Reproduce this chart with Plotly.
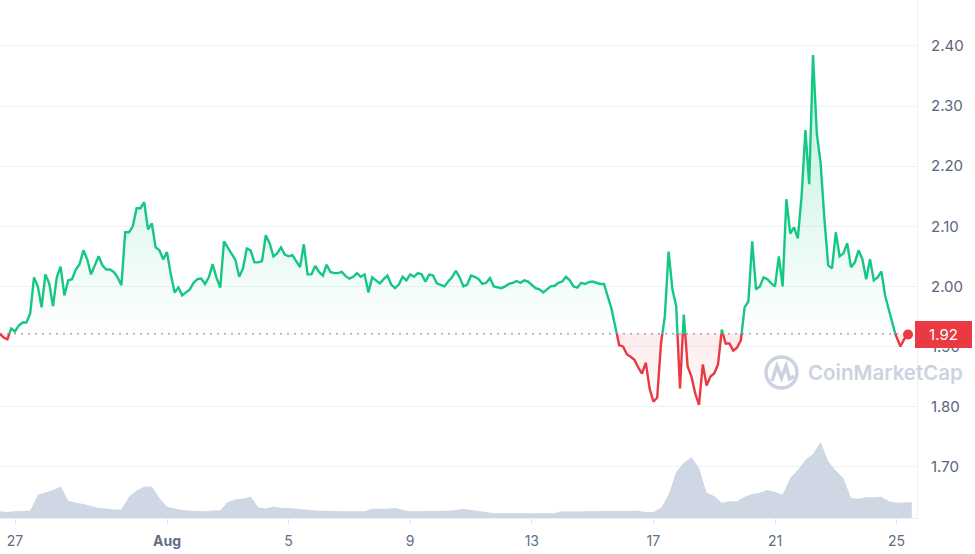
import numpy as np
import pandas as pd
import plotly.graph_objects as go

# ---------------- data ----------------
PRICE_START = "2022-07-26 12:00"
PRICE_STEP = "3h"
prices = [
    1.921, 1.915, 1.912, 1.930, 1.925, 1.935, 1.940, 1.940, 1.955, 2.015,
    2.000, 1.965, 2.020, 2.005, 1.967, 2.015, 2.033, 1.985, 2.010, 2.012,
    2.028, 2.037, 2.060, 2.045, 2.020, 2.035, 2.050, 2.035, 2.028, 2.028,
    2.024, 2.015, 2.002, 2.090, 2.090, 2.100, 2.130, 2.130, 2.140, 2.095,
    2.105, 2.065, 2.060, 2.045, 2.057, 2.020, 1.990, 1.998, 1.985, 1.990,
    1.995, 2.006, 2.012, 2.013, 2.004, 2.015, 2.037, 2.015, 1.998, 2.075,
    2.065, 2.055, 2.044, 2.016, 2.030, 2.063, 2.060, 2.040, 2.040, 2.042,
    2.085, 2.072, 2.050, 2.055, 2.065, 2.053, 2.050, 2.052, 2.043, 2.032,
    2.070, 2.020, 2.020, 2.034, 2.024, 2.018, 2.036, 2.024, 2.022, 2.022,
    2.024, 2.017, 2.013, 2.016, 2.022, 2.016, 2.020, 1.990, 2.015, 2.010,
    2.005, 2.012, 2.018, 2.003, 1.997, 2.003, 2.016, 2.010, 2.020, 2.016,
    2.022, 2.020, 2.008, 2.020, 2.018, 2.005, 2.002, 2.000, 2.008, 2.015,
    2.026, 2.015, 2.000, 2.003, 2.018, 2.016, 2.012, 2.004, 2.006, 2.014,
    2.000, 1.999, 1.997, 2.000, 2.004, 2.006, 2.009, 2.006, 2.010, 2.008,
    2.002, 1.997, 1.995, 1.990, 1.995, 2.000, 2.001, 2.006, 2.008, 2.016,
    2.010, 2.000, 1.998, 2.006, 2.004, 2.007, 2.008, 2.006, 2.004, 2.004,
    1.982, 1.962, 1.932, 1.902, 1.900, 1.887, 1.883, 1.878, 1.865, 1.855,
    1.873, 1.830, 1.808, 1.815, 1.905, 1.950, 2.058, 1.995, 1.967, 1.830,
    1.953, 1.867, 1.850, 1.822, 1.803, 1.870, 1.835, 1.850, 1.855, 1.870,
    1.928, 1.905, 1.905, 1.893, 1.898, 1.910, 1.965, 1.975, 2.075, 1.995,
    2.000, 2.015, 2.012, 2.005, 2.000, 2.050, 2.000, 2.145, 2.088, 2.098,
    2.080, 2.150, 2.260, 2.170, 2.385, 2.255, 2.205, 2.112, 2.035, 2.030,
    2.090, 2.050, 2.055, 2.072, 2.032, 2.040, 2.060, 2.045, 2.012, 2.045,
    2.010, 2.015, 2.025, 1.984, 1.960, 1.932, 1.915, 1.900, 1.912, 1.920,
]

VOLUME_START = "2022-07-26 12:00"
VOLUME_STEP = "6h"
volumes_musd = [
    17, 15, 17, 17, 18, 58, 64, 70, 79, 44,
    38, 35, 30, 25, 24, 21, 21, 53, 69, 78,
    79, 50, 28, 24, 20, 18, 17, 17, 19, 19,
    40, 46, 48, 54, 27, 24, 29, 25, 25, 23,
    21, 20, 18, 18, 17, 17, 17, 17, 17, 23,
    23, 23, 25, 20, 17, 17, 17, 17, 17, 18,
    20, 23, 20, 18, 15, 12, 12, 12, 12, 12,
    12, 12, 12, 12, 17, 16, 16, 17, 17, 17,
    18, 18, 18, 18, 18, 15, 15, 25, 58, 115,
    138, 152, 125, 63, 55, 38, 42, 42, 53, 60,
    63, 70, 65, 58, 100, 120, 145, 160, 190, 142,
    118, 100, 50, 48, 52, 52, 53, 42, 38, 39,
    40,
]

tick_dates = ["2022-07-27", "2022-08-01", "2022-08-05", "2022-08-09",
              "2022-08-13", "2022-08-17", "2022-08-21", "2022-08-25"]
tick_labels = ["27", "<b>Aug</b>", "5", "9", "13", "17", "21", "25"]
y_ticks = [1.70, 1.80, 1.90, 2.00, 2.10, 2.20, 2.30, 2.40]

# ---------------- styles ----------------
GREEN = "#16c784"
RED = "#ea3943"
GRID = "#eff2f5"
AXIS_TXT = "#58667e"
VOL = "#cfd6e4"
WM = "#ccd3e0"
FONT = "Inter, Roboto, 'Noto Sans', sans-serif"

W, H = 975, 554
PLOT_W, PLOT_H = 917, 518

# ---------------- derived series ----------------
t = pd.date_range(PRICE_START, periods=len(prices), freq=PRICE_STEP)
tv = pd.date_range(VOLUME_START, periods=len(volumes_musd), freq=VOLUME_STEP)
base = prices[0]

tn = t.asi8
xs, ys = [], []
for k in range(len(prices)):
    if k > 0:
        a, b = prices[k - 1] - base, prices[k] - base
        if a * b < 0:
            f = a / (a - b)
            xs.append(int(tn[k - 1] + f * (tn[k] - tn[k - 1])))
            ys.append(base)
    xs.append(int(tn[k]))
    ys.append(prices[k])
xd = pd.to_datetime(np.array(xs, dtype="int64"))
ys = np.array(ys)
eps = 1e-9
green_line = [v if v >= base - eps else None for v in ys]
red_line = [v if v <= base + eps else None for v in ys]
green_fill = np.maximum(ys, base)
red_fill = np.minimum(ys, base)
base_arr = np.full(len(ys), base)

fig = go.Figure()

# volume
fig.add_trace(go.Scatter(
    x=tv, y=volumes_musd, yaxis="y2", mode="lines",
    line=dict(width=0, shape="linear"), fill="tozeroy", fillcolor=VOL,
    hoverinfo="skip"))

# green area
fig.add_trace(go.Scatter(x=xd, y=base_arr, mode="lines", line=dict(width=0),
                         hoverinfo="skip"))
fig.add_trace(go.Scatter(
    x=xd, y=green_fill, mode="lines", line=dict(width=0), fill="tonexty",
    fillgradient=dict(type="vertical",
                      colorscale=[[0, "rgba(22,199,132,0.0)"],
                                  [1, "rgba(22,199,132,0.30)"]],
                      start=base, stop=2.40),
    hoverinfo="skip"))
# red area
fig.add_trace(go.Scatter(x=xd, y=base_arr, mode="lines", line=dict(width=0),
                         hoverinfo="skip"))
fig.add_trace(go.Scatter(
    x=xd, y=red_fill, mode="lines", line=dict(width=0), fill="tonexty",
    fillgradient=dict(type="vertical",
                      colorscale=[[0, "rgba(234,57,67,0.0)"],
                                  [1, "rgba(234,57,67,0.10)"]],
                      start=1.79, stop=base),
    hoverinfo="skip"))

# lines
fig.add_trace(go.Scatter(x=xd, y=green_line, mode="lines",
                         line=dict(color=GREEN, width=2.4)))
fig.add_trace(go.Scatter(x=xd, y=red_line, mode="lines",
                         line=dict(color=RED, width=2.4)))
last_color = GREEN if prices[-1] >= base else RED
fig.add_trace(go.Scatter(x=[t[-1]], y=[prices[-1]], mode="markers",
                         marker=dict(color=last_color, size=10)))

# dotted baseline
fig.add_shape(type="line", xref="paper", yref="y", x0=0, x1=1, y0=base, y1=base,
              line=dict(color="#a3aab8", width=1.5, dash="2px,5px"), layer="below")


# watermark (logo circle + wave + text)
def px2paper(px, py):
    return px / PLOT_W, 1 - py / PLOT_H


cx0, cy0 = px2paper(766, 388)
cx1, cy1 = px2paper(797, 357)
fig.add_shape(type="circle", xref="paper", yref="paper", x0=cx0, y0=cy0, x1=cx1, y1=cy1,
              line=dict(color=WM, width=3.5), layer="below")
wave_px = [(772, 381), (777, 366), (781.5, 378), (786, 366), (789.5, 379), (794, 376)]
path = "M " + " L ".join("%.5f,%.5f" % px2paper(a, b) for a, b in wave_px)
fig.add_shape(type="path", xref="paper", yref="paper", path=path,
              line=dict(color=WM, width=3.5), layer="below")
tx, ty = px2paper(806, 372)
fig.add_annotation(xref="paper", yref="paper", x=tx, y=ty, xanchor="left", yanchor="middle",
                   text="CoinMarketCap", showarrow=False,
                   font=dict(family=FONT, size=20.5, color=WM, weight=600))

# price label
fig.add_annotation(xref="paper", yref="y", x=1.0, y=prices[-1], xanchor="left", yanchor="middle",
                   xshift=-2, text="%.2f" % prices[-1], showarrow=False,
                   bgcolor=RED if prices[-1] < base else GREEN,
                   width=51, height=21, borderpad=3, borderwidth=0,
                   font=dict(family=FONT, size=15, color="white"))

fig.update_layout(
    width=W, height=H,
    margin=dict(l=0, r=W - PLOT_W, t=0, b=H - PLOT_H),
    paper_bgcolor="white", plot_bgcolor="white",
    showlegend=False, hovermode=False,
    font=dict(family=FONT),
    xaxis=dict(
        range=["2022-07-26 12:09", "2022-08-25 16:06"],
        tickmode="array", tickvals=tick_dates, ticktext=tick_labels,
        showgrid=False, zeroline=False,
        ticks="outside", ticklen=5, tickcolor="#dfe3ea", tickwidth=1,
        showline=True, linecolor=GRID, linewidth=1,
        tickfont=dict(family=FONT, size=14, color="#616e85"),
        ticklabelstandoff=5,
    ),
    yaxis=dict(
        side="right", range=[1.6146, 2.4765],
        tickmode="array", tickvals=y_ticks, ticktext=["%.2f" % v for v in y_ticks],
        showgrid=True, gridcolor=GRID, gridwidth=1, zeroline=False,
        showline=True, linecolor=GRID, linewidth=1, ticks="",
        tickfont=dict(family=FONT, size=15, color=AXIS_TXT),
        ticklabelstandoff=10,
    ),
    yaxis2=dict(overlaying="y", range=[0, 1295], visible=False, showgrid=False),
)

fig.write_html(
    "out.html",
    config={"displayModeBar": False},
    post_script="document.body.style.margin='0';document.body.style.overflow='hidden';",
)
